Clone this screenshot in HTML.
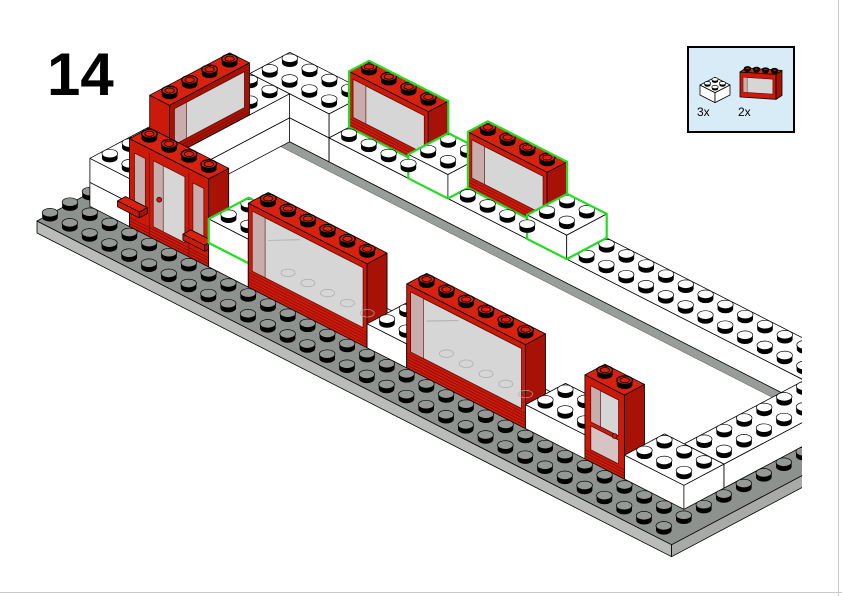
<!DOCTYPE html>
<html><head><meta charset="utf-8"><style>
html,body{margin:0;padding:0;background:#fff;width:842px;height:596px;overflow:hidden}
svg{display:block;font-family:"Liberation Sans",sans-serif}
</style></head><body>
<svg id="s" xmlns="http://www.w3.org/2000/svg" width="842" height="596" viewBox="0 0 842 596">
<defs><clipPath id="c"><rect x="0" y="0" width="802" height="596"/></clipPath></defs>
<rect width="842" height="596" fill="#fff"/>
<line x1="0" y1="592.5" x2="842" y2="592.5" stroke="#c8c8c8" stroke-width="1"/>
<line x1="838.5" y1="0" x2="838.5" y2="596" stroke="#c8c8c8" stroke-width="1"/>
<g id="g" clip-path="url(#c)"></g>
<text x="47" y="95" font-size="60" font-weight="bold" fill="#000" font-family="Liberation Sans, sans-serif">14</text>
<rect x="688" y="47" width="106" height="85" fill="#d8ecf8" stroke="#000" stroke-width="2"/>
<g id="ic"></g>
<text x="697" y="116" font-size="12" fill="#000">3x</text>
<text x="738" y="116" font-size="12" fill="#000">2x</text>
</svg>
<script>
const NS='http://www.w3.org/2000/svg';
function el(p,t,a){const e=document.createElementNS(NS,t);for(const k in a)e.setAttribute(k,a[k]);p.appendChild(e);return e;}
function mkK(ox,oy,ux,uy,vx,vy){return (u,v,z)=>[ox+u*ux+v*vx,oy+u*uy+v*vy-z];}
let G,K,SR=1;
function P(pts,fill,stroke,sw){el(G,'polygon',{points:pts.map(p=>p[0].toFixed(1)+','+p[1].toFixed(1)).join(' '),fill:fill,stroke:stroke===undefined?'#000':stroke,'stroke-width':sw===undefined?0.8:sw,'stroke-linejoin':'round'});}
function L(a,b,col,w){el(G,'line',{x1:a[0],y1:a[1],x2:b[0],y2:b[1],stroke:col,'stroke-width':w});}
function box(u0,v0,z0,u1,v1,z1,c){
 P([K(u0,v0,z0),K(u1,v0,z0),K(u1,v0,z1),K(u0,v0,z1)],c[0]);
 P([K(u1,v0,z0),K(u1,v1,z0),K(u1,v1,z1),K(u1,v0,z1)],c[1]);
 P([K(u0,v0,z1),K(u1,v0,z1),K(u1,v1,z1),K(u0,v1,z1)],c[2]);}
function sil(u0,v0,z0,u1,v1,z1){P([K(u0,v0,z0),K(u1,v0,z0),K(u1,v1,z0),K(u1,v1,z1),K(u0,v1,z1),K(u0,v0,z1)],'none','#22dd22',2.2);}
function stud(u,v,z,col,red){const [x,y]=K(u,v,z);const rx=7.8*SR,ry=4.3*SR,h=4.5*SR;
 el(G,'path',{d:`M${x-rx},${y-h} L${x-rx},${y} A${rx},${ry} 0 0 0 ${x+rx},${y} L${x+rx},${y-h} Z`,fill:'#000'});
 el(G,'ellipse',{cx:x,cy:y-h,rx:rx,ry:ry,fill:col,stroke:'#000','stroke-width':red?1.3:0.7});
 if(red)el(G,'ellipse',{cx:x,cy:y-h,rx:rx*0.6,ry:ry*0.6,fill:'none',stroke:'#000','stroke-width':0.8});}
function studs(i0,i1,j0,j1,z,col,red){const A=[];for(let i=i0;i<i1;i++)for(let j=j0;j<j1;j++)A.push([i,j]);
 A.sort((a,b)=>K(a[0]+.5,a[1]+.5,0)[1]-K(b[0]+.5,b[1]+.5,0)[1]);A.forEach(([i,j])=>stud(i+.5,j+.5,z,col,red));}
const W=['#fff','#fff','#fff'],R=['#cc1a0a','#a81206','#d8210f'],PL=['#b9bcb9','#a7aaa7','#8e928e'],PS='#959995';
const GL='#d6d6d6',PK='#c9adad',DR='#5a0a00';
function winU(u0,u1,v0,z0,z1,big){box(u0,v0,z0,u1,v0+1,z1,R);const q=(u,z)=>K(u,v0,z);
 const gb=big?z0+18:z0+12;
 P([q(u0+.2,gb),q(u1-.2,gb),q(u1-.2,z1-6),q(u0+.2,z1-6)],GL,DR,0.8);
 if(big){for(let i=0;i<u1-u0-1;i++){const c=K(u0+1.3+i,v0+0.7,gb+2);el(G,'ellipse',{cx:c[0],cy:c[1],rx:7,ry:3.8,fill:'none',stroke:'#aaa','stroke-width':0.7});}
  L(q(u0+1,(gb+z1)/2+6),K(u0+1.8,v0+0.8,(gb+z1)/2+6),'#999',0.6);}
 P([q(u0+.2,gb),q(u0+.85,gb),q(u0+.85,z1-6),q(u0+.2,z1-6)],PK,DR,0.6);
 for(let d=3;d<gb-z0;d+=3)L(q(u0,z0+d),q(u1,z0+d),'#7a0c00',0.6);
 studs(u0,u1,v0,v0+1,z1,R[2],true);}
function winV(u0,v0,v1,z0,z1){box(u0,v0,z0,u0+1,v1,z1,R);const q=(v,z)=>K(u0+1,v,z);
 P([q(v0+.25,z0+10),q(v1-.25,z0+10),q(v1-.25,z1-6),q(v0+.25,z1-6)],GL,DR,0.8);
 P([q(v0+.25,z0+10),q(v0+.85,z0+10),q(v0+.85,z1-6),q(v0+.25,z1-6)],PK,DR,0.6);
 for(const d of [3,6])L(q(v0,z0+d),q(v1,z0+d),'#7a0c00',0.7);
 studs(u0,u0+1,v0,v1,z1,R[2],true);}
function door(u0,u1,v0,z0,z1){box(u0,v0,z0,u1,v0+1,z1,R);const q=(u,z)=>K(u,v0,z);
 P([q(u0+.3,z0+40),q(u1-.3,z0+40),q(u1-.3,z1-8),q(u0+.3,z1-8)],GL,DR,0.8);
 P([q(u0+.3,z0+40),q(u0+.8,z0+40),q(u0+.8,z1-8),q(u0+.3,z1-8)],PK,DR,0.6);
 P([q(u0+.3,z0+12),q(u1-.3,z0+12),q(u1-.3,z0+36),q(u0+.3,z0+36)],'#d6c4c4',DR,0.8);
 for(const d of [3,6,9])L(q(u0,z0+d),q(u1,z0+d),'#7a0c00',0.7);
 const h=q(u1-.5,z0+38);el(G,'circle',{cx:h[0],cy:h[1],r:2.5,fill:'#cc1a0a',stroke:'#000','stroke-width':0.6});
 studs(u0,u1,v0,v0+1,z1,R[2],true);}
function frontAssembly(){box(3,2,0,7,3,88,R);const q=(u,z)=>K(u,2,z);
 P([q(3.25,28),q(3.8,28),q(3.8,76),q(3.25,76)],PK,DR,0.7);
 P([q(6.2,28),q(6.75,28),q(6.75,76),q(6.2,76)],PK,DR,0.7);
 P([q(4.2,12),q(5.8,12),q(5.8,78),q(4.2,78)],GL,DR,0.8);
 P([q(4.2,12),q(4.7,12),q(4.7,78),q(4.2,78)],PK,DR,0.6);
 L(q(4,0),q(4,84),'#7a0c00',0.8);L(q(6,0),q(6,84),'#7a0c00',0.8);
 box(2.8,1.6,22,3.9,2,28,R);box(6.1,1.6,22,7.2,2,28,R);
 const h=q(4.5,42);el(G,'circle',{cx:h[0],cy:h[1],r:2.5,fill:'#cc1a0a',stroke:'#000','stroke-width':0.6});
 for(const d of [3,6,9])L(q(3,d),q(7,d),'#7a0c00',0.7);
 studs(3,7,2,3,88,R[2],true);}

G=document.getElementById('g');
K=mkK(30.1,217.45,19.8,10.1,20,-10.6);
box(0.35,0,-12,32.4,12,0,PL);
studs(0,1,2,4,0,PS);
P([K(3,4,0),K(29,4,0),K(29,10,0),K(3,10,0)],'#fff','none');
P([K(3,9.55,0),K(29,9.55,0),K(29,10,0),K(3,10,0)],'#999d99','#555',0.5);
// back wall
box(1,10,0,5,12,24,W);box(1,10,24,5,12,48,W);studs(1,5,10,12,48,'#fff');
box(5,10,0,31,12,24,W);studs(5,31,11,12,24,'#fff');studs(17,31,10,11,24,'#fff');
winU(5,9,11,24,80,false);sil(5,11,24,9,12,80);
box(9,10,24,11,12,48,W);studs(9,11,10,12,48,'#fff');sil(9,10,24,11,12,48);
winU(11,15,11,24,80,false);sil(11,11,24,15,12,80);
box(15,10,24,17,12,48,W);studs(15,17,10,12,48,'#fff');sil(15,10,24,17,12,48);
studs(5,9,10,11,24,'#fff');studs(11,15,10,11,24,'#fff');
// left wall
box(1,4,0,3,10,24,W);box(1,4,24,3,10,48,W);studs(1,3,8,10,48,'#fff');studs(1,2,4,8,48,'#fff');
winV(2,4,8,48,100);
// right wall
box(29,4,0,31,10,24,W);studs(29,31,4,10,24,'#fff');
// front wall
box(1,2,0,3,4,24,W);box(1,2,24,3,4,48,W);studs(1,3,2,4,48,'#fff');
frontAssembly();
box(7,2,0,9,4,24,W);box(7,2,24,9,4,48,W);studs(7,9,2,4,48,'#fff');sil(7,2,24,9,4,48);
box(9,3,0,15,4,8,W);
winU(9,15,2,0,84,true);
box(15,2,0,17,4,24,W);studs(15,17,2,4,24,'#fff');
box(17,3,0,23,4,8,W);
winU(17,23,2,0,84,true);
box(23,2,0,26,4,24,W);studs(23,26,2,4,24,'#fff');
door(26,28,2,0,84);
box(28,2,0,31,4,24,W);studs(28,31,2,4,24,'#fff');
// plate studs in front
studs(0,32,0,2,0,PS);studs(31,32,2,12,0,PS);

// inset icons
G=document.getElementById('ic');
SR=0.4;
K=mkK(700,95,7.5,3.8,7.5,-3.8);
box(0,0,0,2,2,10,W);studs(0,2,0,2,10,'#fff');
K=mkK(740,97,9,0.6,6,-4);
box(0,0,0,4,1,25,R);
(function(){const q=(u,z)=>K(u,0,z);P([q(.35,5),q(3.65,5),q(3.65,20),q(.35,20)],GL,DR,0.6);
 P([q(.35,5),q(.8,5),q(.8,20),q(.35,20)],PK,DR,0.4);})();
studs(0,4,0,1,25,R[2],true);
</script>
</body></html>
